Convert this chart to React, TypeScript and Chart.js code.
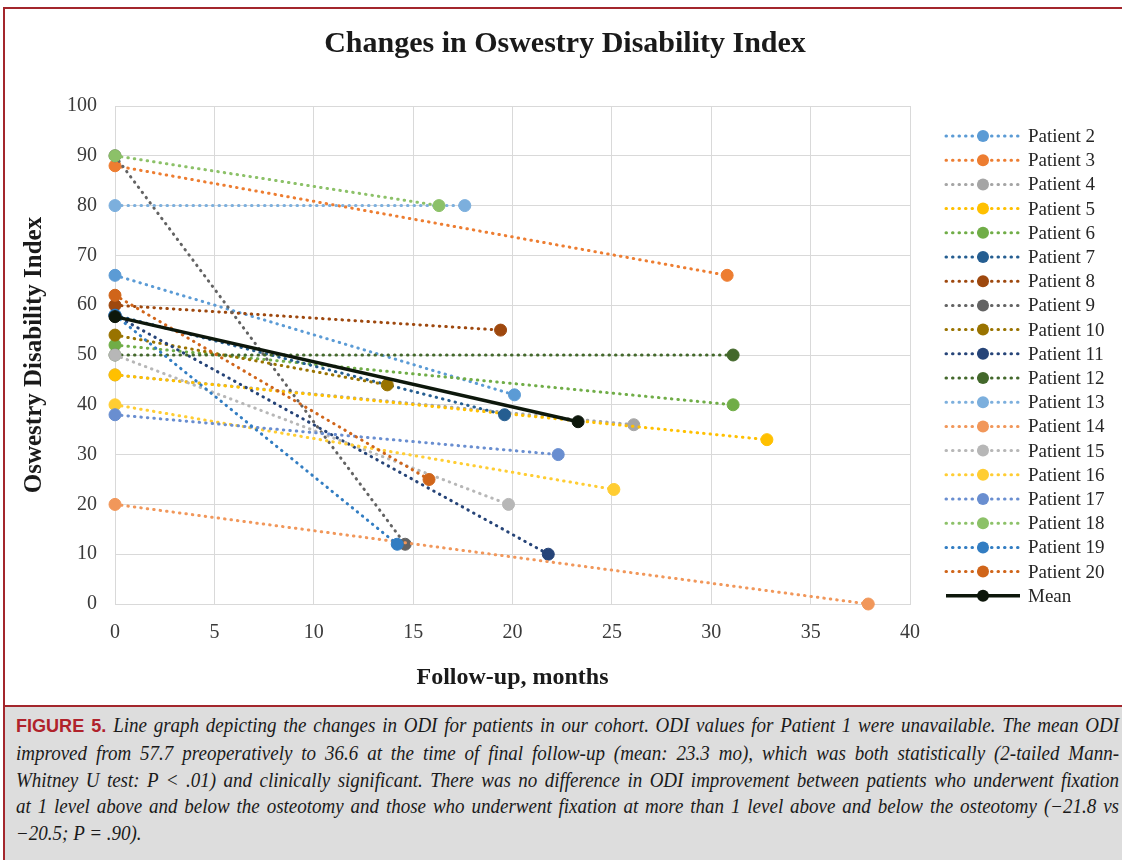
import { useEffect, useRef } from "react";
import { Chart, registerables } from "chart.js";

Chart.register(...registerables);

// ---------- data ----------
const patientLabels = [
  "Patient 2", "Patient 3", "Patient 4", "Patient 5", "Patient 6", "Patient 7",
  "Patient 8", "Patient 9", "Patient 10", "Patient 11", "Patient 12", "Patient 13",
  "Patient 14", "Patient 15", "Patient 16", "Patient 17", "Patient 18", "Patient 19",
  "Patient 20",
];
const preopODI = [66, 88, 46, 46, 52, 58, 60, 90, 54, 58, 50, 80, 20, 50, 40, 38, 90, 58, 62];
const finalODI = [42, 66, 36, 33, 40, 38, 55, 12, 44, 10, 50, 80, 0, 20, 23, 30, 80, 12, 25];
const followUpMonths = [
  20.1, 30.8, 26.1, 32.8, 31.1, 19.6, 19.4, 14.6, 13.7, 21.8, 31.1, 17.6, 37.9,
  19.8, 25.1, 22.3, 16.3, 14.2, 15.8,
];
const patientColors = [
  "#5B9BD5", "#ED7D31", "#A5A5A5", "#FFC000", "#70AD47", "#255E91",
  "#9E480E", "#636363", "#997300", "#264478", "#43682B", "#7CAFDD",
  "#F1975A", "#B7B7B7", "#FFCD33", "#698ED0", "#8CC168", "#327DC2",
  "#D0651A",
];
const meanLabel = "Mean";
const meanODI = [57.7, 36.6];
const meanFollowUp = [0, 23.3];

const titleText = "Changes in Oswestry Disability Index";
const xAxisTitle = "Follow-up, months";
const yAxisTitle = "Oswestry Disability Index";
const xRange = [0, 40];
const xStep = 5;
const yRange = [0, 100];
const yStep = 10;

const captionLines = [
  "Line graph depicting the changes in ODI for patients in our cohort. ODI values for Patient 1 were unavailable. The mean ODI",
  "improved from 57.7 preoperatively to 36.6 at the time of final follow-up (mean: 23.3 mo), which was both statistically (2-tailed Mann-",
  "Whitney U test: P < .01) and clinically significant. There was no difference in ODI improvement between patients who underwent fixation",
  "at 1 level above and below the osteotomy and those who underwent fixation at more than 1 level above and below the osteotomy (\u221221.8 vs",
  "\u221220.5; P = .90).",
];
const figureLabel = "FIGURE 5.";

// ---------- styling constants ----------
const SERIF = '"Liberation Serif", "Times New Roman", serif';
const FRAME_RED = "#A3262C";
const CAPTION_SCALE = 0.95;

const legendPlugin = {
  id: "excelLegend",
  afterDraw(chart: any) {
    const ctx = chart.ctx as CanvasRenderingContext2D;
    const sets = chart.data.datasets;
    const top = 136;
    const step = 24.2;
    ctx.save();
    sets.forEach((d: any, i: number) => {
      const y = top + i * step;
      ctx.beginPath();
      ctx.setLineDash(d.borderDash || []);
      ctx.lineCap = d.borderCapStyle || "butt";
      ctx.lineWidth = d.borderWidth;
      ctx.strokeStyle = d.borderColor;
      ctx.moveTo(946, y);
      ctx.lineTo(1020, y);
      ctx.stroke();
      ctx.setLineDash([]);
      ctx.beginPath();
      ctx.arc(983, y, 6, 0, Math.PI * 2);
      ctx.fillStyle = d.pointBackgroundColor;
      ctx.fill();
      ctx.fillStyle = "#262626";
      ctx.font = `19px ${SERIF}`;
      ctx.textBaseline = "middle";
      ctx.textAlign = "left";
      ctx.fillText(d.label, 1028, y + 1);
    });
    ctx.restore();
  },
};

export default function App() {
  const canvasRef = useRef<HTMLCanvasElement | null>(null);

  useEffect(() => {
    if (!canvasRef.current) return;
    const patientSets = patientLabels.map((label, i) => ({
      label,
      data: [
        { x: 0, y: preopODI[i] },
        { x: followUpMonths[i], y: finalODI[i] },
      ],
      showLine: true,
      borderColor: patientColors[i],
      backgroundColor: patientColors[i],
      pointBackgroundColor: patientColors[i],
      pointBorderColor: patientColors[i],
      pointBorderWidth: 1,
      pointRadius: 6,
      borderWidth: 3,
      borderDash: [0.5, 6],
      borderCapStyle: "round",
      clip: false,
      order: -i,
    }));
    const meanSet = {
      label: meanLabel,
      data: meanFollowUp.map((x, k) => ({ x, y: meanODI[k] })),
      showLine: true,
      borderColor: "#0D170B",
      backgroundColor: "#0D170B",
      pointBackgroundColor: "#0D170B",
      pointBorderColor: "#0D170B",
      pointBorderWidth: 1,
      pointRadius: 6,
      borderWidth: 3.5,
      borderDash: [],
      borderCapStyle: "butt",
      clip: false,
      order: -100,
    };

    const chart = new Chart(canvasRef.current, {
      type: "scatter",
      data: { datasets: [...patientSets, meanSet] as any },
      options: {
        animation: false,
        responsive: false,
        devicePixelRatio: 1,
        layout: { padding: { left: 0, top: 106, right: 212, bottom: 0 } },
        plugins: {
          legend: { display: false },
          title: { display: false },
          tooltip: { enabled: false },
        },
        scales: {
          x: {
            type: "linear",
            min: xRange[0],
            max: xRange[1],
            afterFit: (s: any) => {
              s.height = 96;
            },
            ticks: {
              stepSize: xStep,
              color: "#3A3A3A",
              font: { family: SERIF, size: 20 },
              padding: 17,
            },
            grid: { color: "#D9D9D9", lineWidth: 1, drawTicks: false },
            border: { color: "#D9D9D9" },
            title: {
              display: true,
              text: xAxisTitle,
              color: "#1A1A1A",
              font: { family: SERIF, size: 24, weight: "bold" },
              padding: { top: 0, bottom: 8 },
            },
          },
          y: {
            type: "linear",
            min: yRange[0],
            max: yRange[1],
            afterFit: (s: any) => {
              s.width = 115;
            },
            ticks: {
              stepSize: yStep,
              color: "#3A3A3A",
              font: { family: SERIF, size: 20 },
              padding: 18,
            },
            grid: { color: "#D9D9D9", lineWidth: 1, drawTicks: false },
            border: { color: "#D9D9D9" },
            title: {
              display: true,
              text: yAxisTitle,
              color: "#1A1A1A",
              font: { family: SERIF, size: 25, weight: "bold" },
              padding: { top: 20, bottom: 0 },
            },
          },
        },
      } as any,
      plugins: [legendPlugin],
    });
    return () => chart.destroy();
  }, []);

  return (
    <div
      style={{
        position: "absolute",
        left: 0,
        top: 0,
        width: 1122,
        height: 860,
        overflow: "hidden",
        background: "#FFFFFF",
      }}
    >
      <canvas
        ref={canvasRef}
        width={1122}
        height={700}
        style={{ position: "absolute", left: 0, top: 0, width: 1122, height: 700 }}
      />
      <div
        style={{
          position: "absolute",
          left: 0,
          width: 1130,
          top: 22,
          textAlign: "center",
          fontFamily: SERIF,
          fontWeight: "bold",
          fontSize: 30,
          lineHeight: "40px",
          color: "#1A1A1A",
        }}
      >
        {titleText}
      </div>
      {/* frame */}
      <div style={{ position: "absolute", left: 3, top: 7, width: 1119, height: 2, background: FRAME_RED }} />
      <div style={{ position: "absolute", left: 3, top: 7, width: 2, height: 853, background: FRAME_RED }} />
      <div
        style={{
          position: "absolute",
          left: 5,
          top: 705,
          width: 1117,
          height: 155,
          background: "#DDDDDD",
          borderTop: `2px solid ${FRAME_RED}`,
        }}
      />
      <div
        style={{
          position: "absolute",
          left: 16,
          top: 712,
          width: 1103 / CAPTION_SCALE,
          transform: `scaleX(${CAPTION_SCALE})`,
          transformOrigin: "left top",
          fontFamily: SERIF,
          fontStyle: "italic",
          fontSize: 20,
          lineHeight: "26.8px",
          color: "#1A1A1A",
        }}
      >
        {captionLines.map((line, i) => (
          <div
            key={i}
            style={{
              textAlign: i < captionLines.length - 1 ? "justify" : "left",
              textAlignLast: i < captionLines.length - 1 ? "justify" : "left",
              whiteSpace: "nowrap" as any,
            }}
          >
            {i === 0 && (
              <span
                style={{
                  fontFamily: '"Liberation Sans Narrow", "Liberation Sans", Arial, sans-serif',
                  fontStyle: "normal",
                  fontWeight: "bold",
                  color: "#B0222B",
                  fontSize: 19,
                }}
              >
                {figureLabel}{" "}
              </span>
            )}
            {line}
          </div>
        ))}
      </div>
    </div>
  );
}
